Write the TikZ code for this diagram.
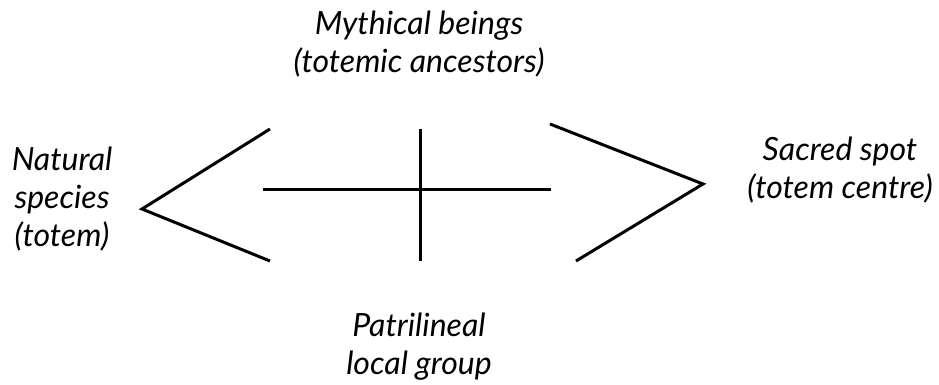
\documentclass[tikz,border=0pt]{standalone}
\usepackage{fontspec}
\setmainfont{Lato}
\usepackage{tikz}

\begin{document}
\begin{tikzpicture}[x=1pt,y=-1pt,line width=3pt,
	lbl/.style={align=center,inner sep=0pt,font=\itshape\fontsize{32}{38}\selectfont}]
		  \useasboundingbox (0,0) rectangle (939,384);
		  \node[lbl] (myth) at (419,44) {Mythical beings\\(totemic ancestors)};
		  \node[lbl] (species) at (62,199.5) {Natural\\species\\(totem)};
		  \node[lbl] (spot) at (840,170) {Sacred spot\\(totem centre)};
		  \node[lbl] (group) at (419,347) {Patrilineal\\local group};
                  \draw (270,129) -- (142,209) -- (270,261);
                  \draw (550,124) -- (703,184) -- (576,261);
                  \draw (263,189) -- (551,189);
                  \draw (420,129) -- (420,261);
		\end{tikzpicture}
\end{document}
